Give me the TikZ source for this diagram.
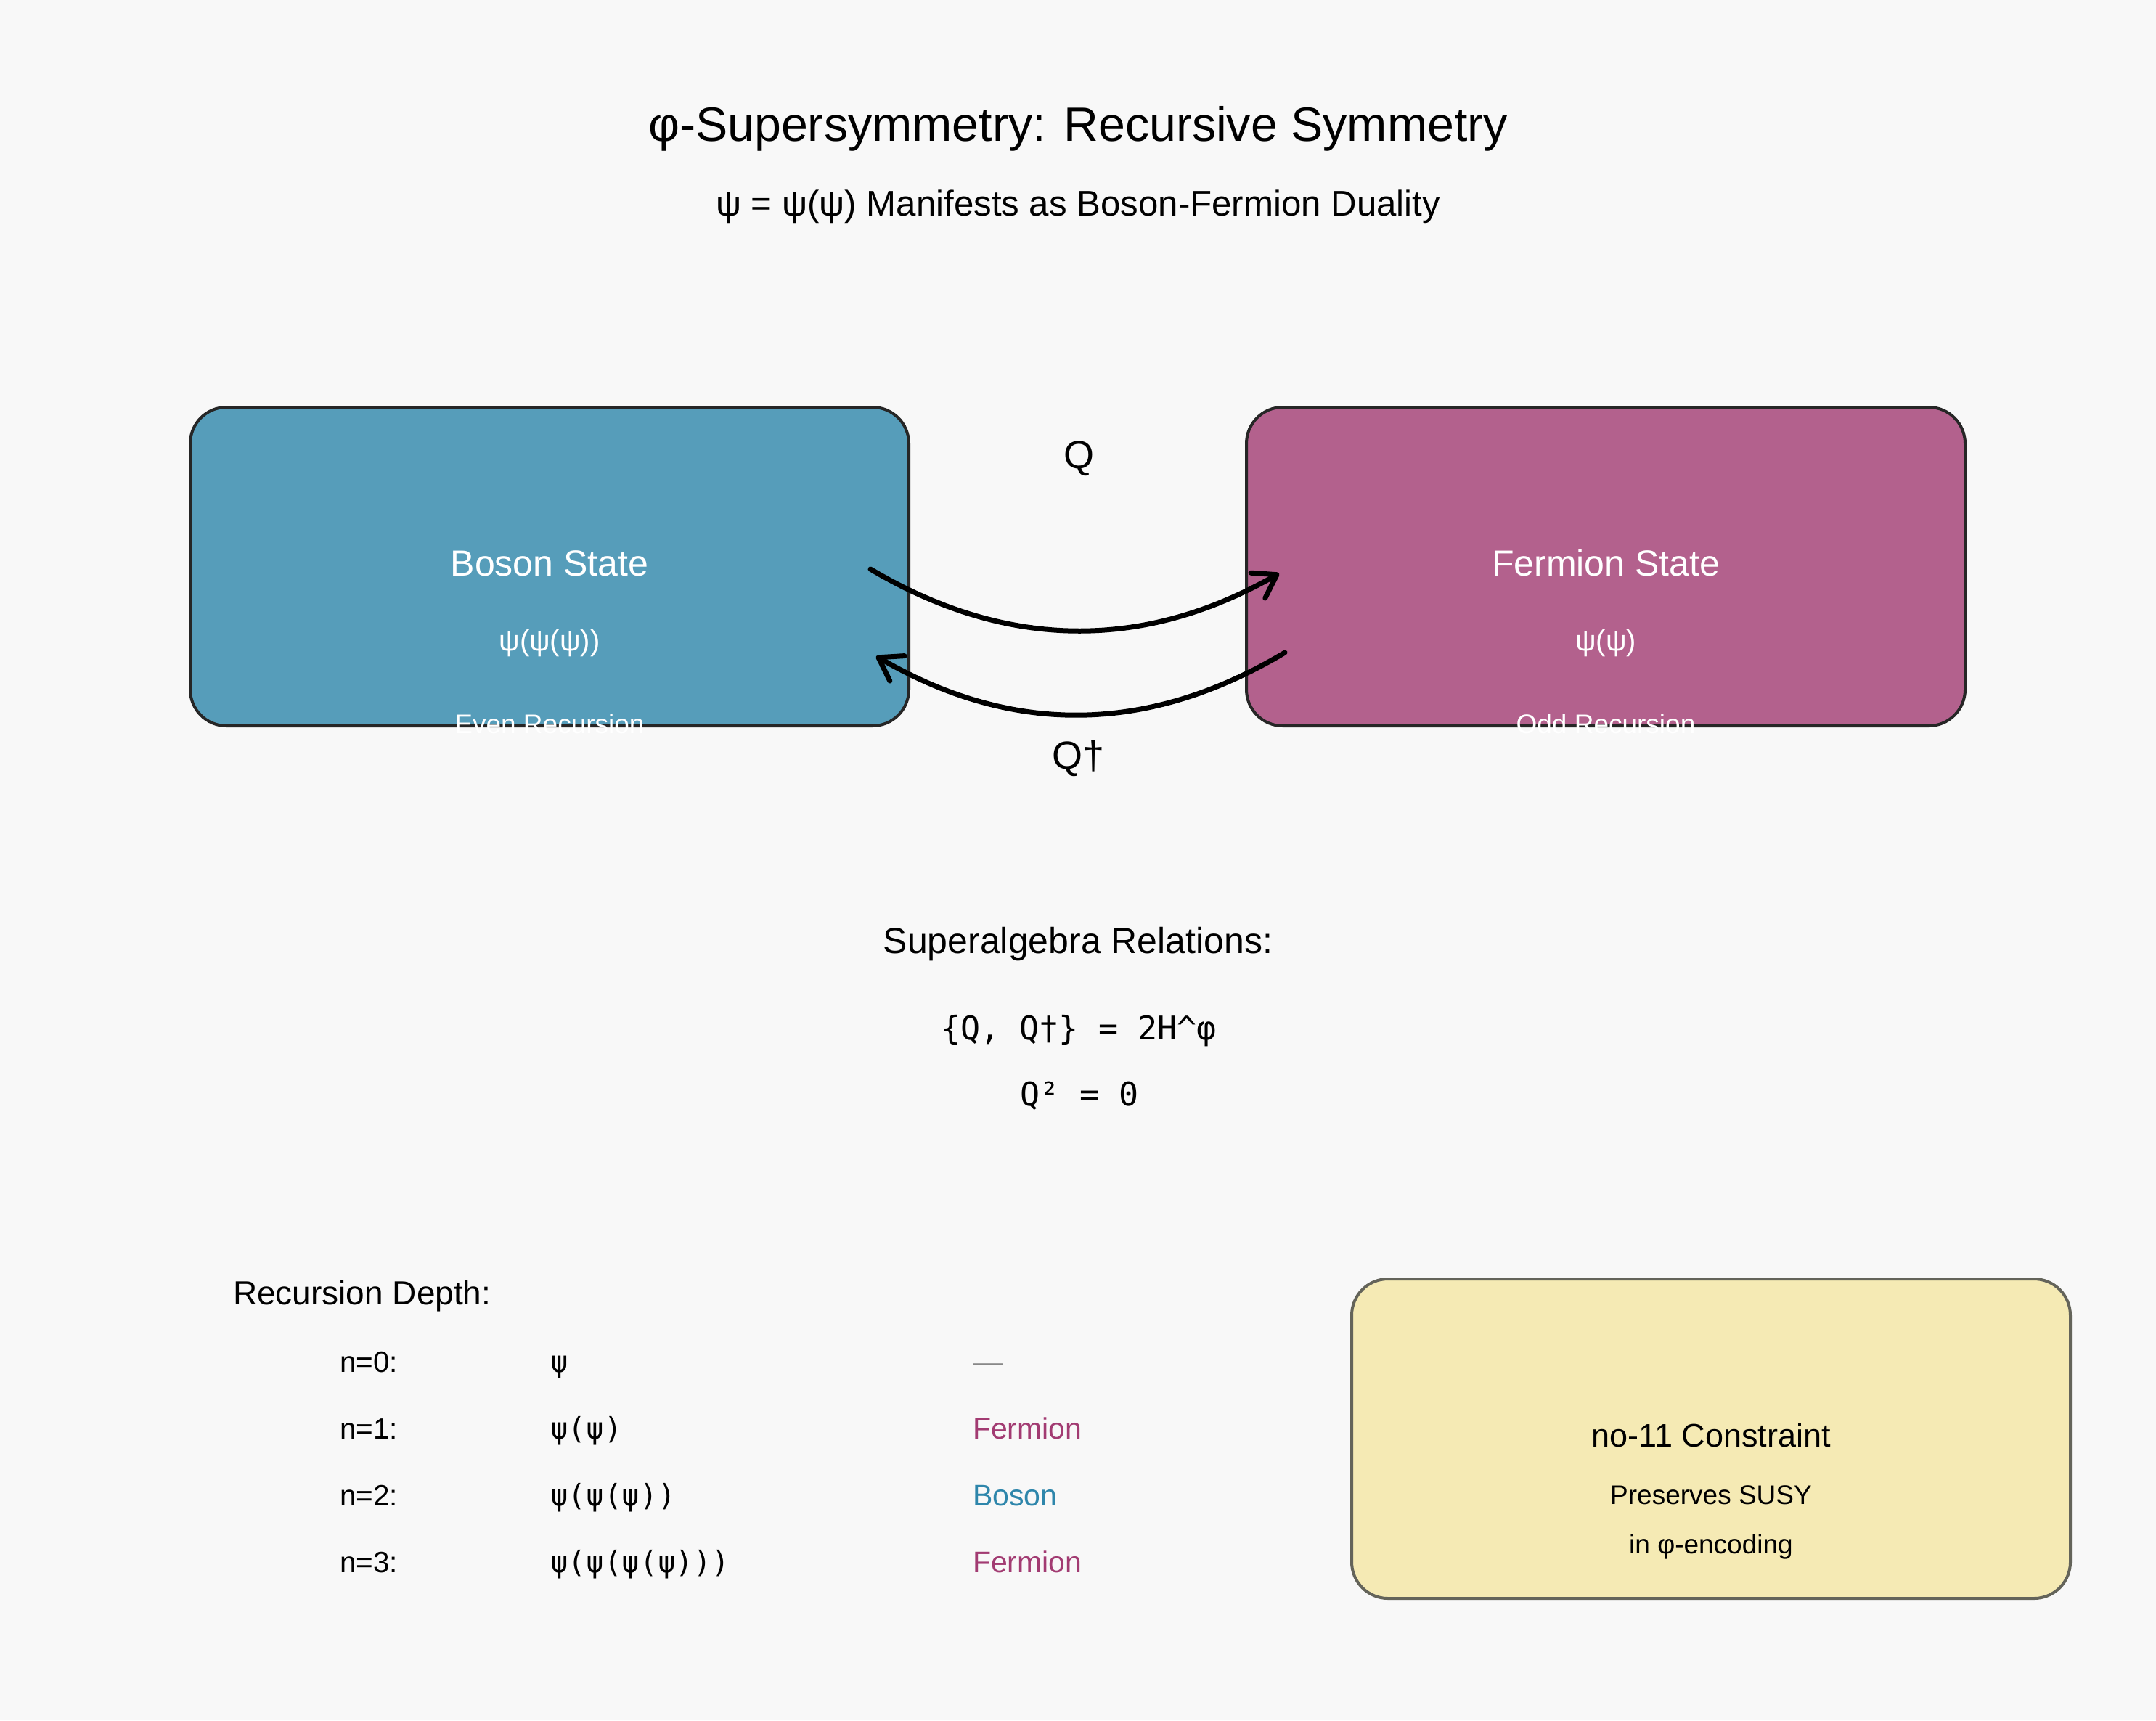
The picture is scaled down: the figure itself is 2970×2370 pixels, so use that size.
\documentclass[tikz,border=0pt]{standalone}
\usepackage{fontspec}
\setmainfont{Liberation Sans}
\newfontfamily\monof{DejaVu Sans Mono}
\usetikzlibrary{arrows.meta}
\definecolor{bg}{HTML}{F8F8F8}
\definecolor{bosonfill}{RGB}{86,157,186}
\definecolor{fermfill}{RGB}{179,97,141}
\definecolor{bosontxt}{HTML}{2E86AB}
\definecolor{fermtxt}{HTML}{A23B72}
\definecolor{yelfill}{RGB}{245,234,180}
\definecolor{yelborder}{RGB}{100,100,90}
\definecolor{boxborder}{RGB}{38,38,38}
\definecolor{dashgray}{RGB}{136,136,136}
\begin{document}
\begin{tikzpicture}[x=1pt,y=-1pt,
  fs/.style={font=\fontsize{#1}{#1}\selectfont},
  mfs/.style={font=\monof\fontsize{#1}{#1}\selectfont},
  txt/.style={anchor=base, inner sep=0pt, outer sep=0pt},
  ltxt/.style={anchor=base west, inner sep=0pt, outer sep=0pt},
  statebox/.style={draw=boxborder, line width=4pt, rounded corners=50pt,
    inner sep=0pt, minimum width=990pt, minimum height=439pt},
  notebox/.style={draw=yelborder, line width=4pt, rounded corners=50pt,
    fill=yelfill, inner sep=0pt, minimum width=990pt, minimum height=440pt},
  conn/.style={line width=7pt, line cap=round, line join=round,
    -{Straight Barb[length=30pt,width=40pt,round]}}
]
\fill[bg] (0,0) rectangle (2970,2370);
\useasboundingbox (0,0) rectangle (2970,2370);

% titles
\node[txt, fs=66.3] (title) at (1485,194) {φ-Supersymmetry: Recursive Symmetry};
\node[txt, fs=49.2] (subtitle) at (1485,297) {ψ = ψ(ψ) Manifests as Boson-Fermion Duality};

% state boxes
\node[statebox, fill=bosonfill] (boson) at (757,780.5) {};
\node[statebox, fill=fermfill] (fermion) at (2212,780.5) {};

\node[txt, fs=50, text=white] (bosonT) at (757,793) {Boson State};
\node[txt, fs=40, text=white] (bosonF) at (757,896) {ψ(ψ(ψ))};
\node[txt, fs=37, text=white] (bosonS) at (757,1010) {Even Recursion};

\node[txt, fs=50, text=white] (fermT) at (2212,793) {Fermion State};
\node[txt, fs=40, text=white] (fermF) at (2212,896) {ψ(ψ)};
\node[txt, fs=37, text=white] (fermS) at (2212,1010) {Odd Recursion};

% arrows
\coordinate (qs) at (1199,784);
\coordinate (qe) at (1762,790);
\coordinate (ds) at (1770,899);
\coordinate (de) at (1207,904);
\draw[conn] (qs) .. controls (1386,895) and (1574,897) .. (qe);
\draw[conn] (ds) .. controls (1581,1012) and (1394,1013) .. (de);
\node[txt, fs=54] (qlab) at (1486,645) {Q};
\node[txt, fs=54] (qdlab) at (1485,1059) {Q†};

% superalgebra
\node[txt, fs=50] (superT) at (1485,1313) {Superalgebra Relations:};
\node[txt, mfs=45] (rel1) at (1486,1432) {\{Q, Q†\} = 2H\^{}φ};
\node[txt, mfs=45] (rel2) at (1487,1523) {Q² = 0};

% recursion depth
\node[ltxt, fs=46] (depthT) at (321,1797) {Recursion Depth:};
\node[ltxt, fs=40.5] (n0) at (468,1890) {n=0:};
\node[ltxt, fs=40.5] (n1) at (468,1982) {n=1:};
\node[ltxt, fs=40.5] (n2) at (468,2074) {n=2:};
\node[ltxt, fs=40.5] (n3) at (468,2166) {n=3:};
\node[ltxt, mfs=41] (p0) at (758,1890) {ψ};
\node[ltxt, mfs=41] (p1) at (758,1982) {ψ(ψ)};
\node[ltxt, mfs=41] (p2) at (758,2074) {ψ(ψ(ψ))};
\node[ltxt, mfs=41] (p3) at (758,2166) {ψ(ψ(ψ(ψ)))};
\node[ltxt, fs=41, text=dashgray] (t0) at (1340,1890) {—};
\node[ltxt, fs=41, text=fermtxt] (t1) at (1340,1982) {Fermion};
\node[ltxt, fs=41, text=bosontxt] (t2) at (1340,2074) {Boson};
\node[ltxt, fs=41, text=fermtxt] (t3) at (1340,2166) {Fermion};

% constraint box
\node[notebox] (note) at (2357,1982) {};
\node[txt, fs=45] (noteT) at (2357,1993) {no-11 Constraint};
\node[txt, fs=37] (noteA) at (2357,2072) {Preserves SUSY};
\node[txt, fs=37] (noteB) at (2357,2140) {in φ-encoding};
\end{tikzpicture}
\end{document}
